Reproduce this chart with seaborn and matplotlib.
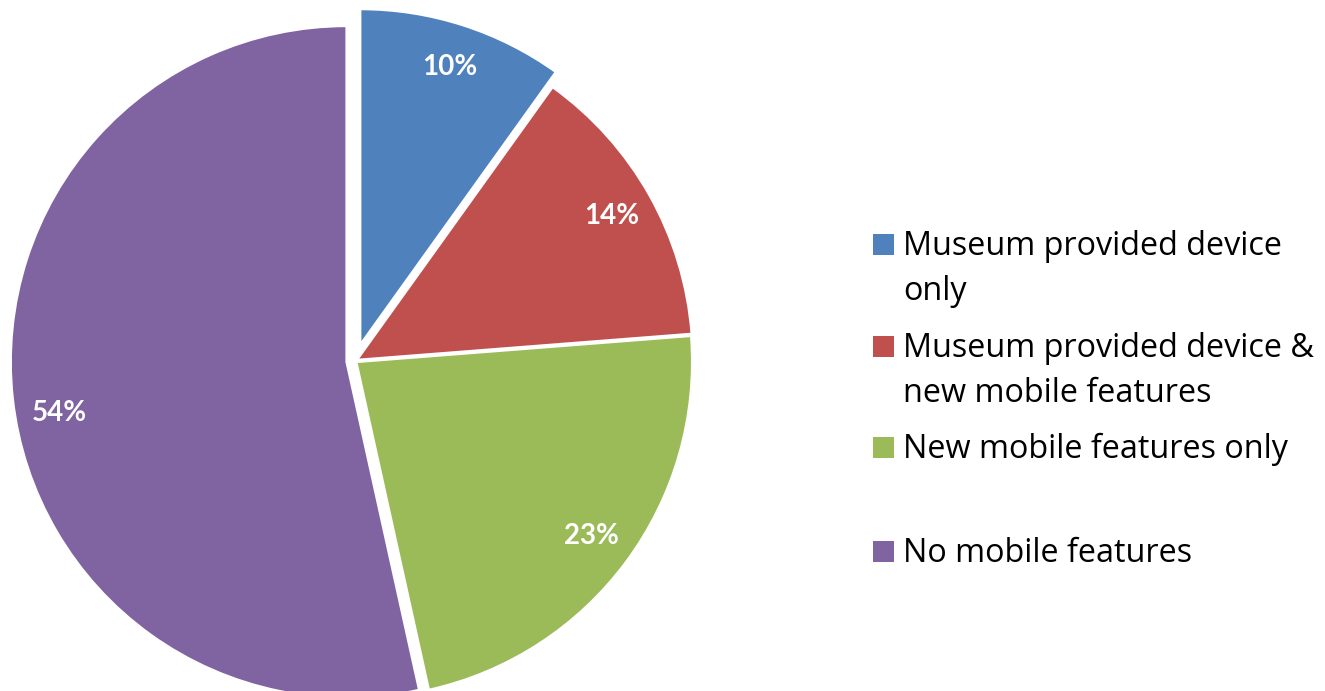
import matplotlib
matplotlib.use("Agg")
import numpy as np
import matplotlib.pyplot as plt
import seaborn as sns
from matplotlib.patches import Rectangle

# Survey shares of visitors by mobile feature usage (percent)
categories = [
    "Museum provided device\nonly",
    "Museum provided device &\nnew mobile features",
    "New mobile features only",
    "No mobile features",
]
shares = [10, 14, 23, 54]
colors = ["#4F81BD", "#C0504D", "#9BBB59", "#8064A2"]

sns.set_theme(style="white")
palette = sns.color_palette(colors)
plt.rcParams["font.family"] = ["Lato", "DejaVu Sans"]

W, H = 1325, 691
fig = plt.figure(figsize=(W / 100, H / 100), dpi=100)
fig.patch.set_facecolor("white")

# Pie placed by pixel centre and radius
cx, cy, r = 355, 361, 336
ax = fig.add_axes([(cx - r) / W, (H - cy - r) / H, 2 * r / W, 2 * r / H])
total = sum(shares)
explode = [0.05, 0.006, 0.0045, 0.025]
wedges, texts, autotexts = ax.pie(
    shares,
    colors=palette,
    startangle=90,
    counterclock=False,
    explode=explode,
    radius=1,
    autopct=lambda p: f"{p * total / 100:.0f}%",
    pctdistance=0.87,
    wedgeprops=dict(edgecolor="white", linewidth=1.8),
    textprops=dict(color="white", fontsize=20, fontweight="bold"),
)
ax.set_xlim(-1, 1)
ax.set_ylim(-1, 1)
ax.set_aspect("equal")
ax.axis("off")
for w in wedges:
    w.set_clip_on(False)

# The large slice's label sits a little below its bisector
ang = np.deg2rad(190)
dist = 0.87 + explode[3]
autotexts[3].set_position((dist * np.cos(ang), dist * np.sin(ang)))

# Legend drawn as swatches with wrapped labels
sq = 21
sq_x = 873
text_x = 903
baselines = [255, 357, 458, 562]
line_gap = 45
for color, label, base in zip(palette, categories, baselines):
    fig.patches.append(
        Rectangle(
            (sq_x / W, (H - base) / H), sq / W, sq / H,
            transform=fig.transFigure, facecolor=color, edgecolor="none",
        )
    )
    for k, line in enumerate(label.split("\n")):
        fig.text(
            text_x / W, (H - base - k * line_gap) / H, line,
            fontsize=23.3, family=["Open Sans", "DejaVu Sans"],
            color="black", ha="left", va="baseline",
        )

fig.savefig("out.png", dpi=100)
